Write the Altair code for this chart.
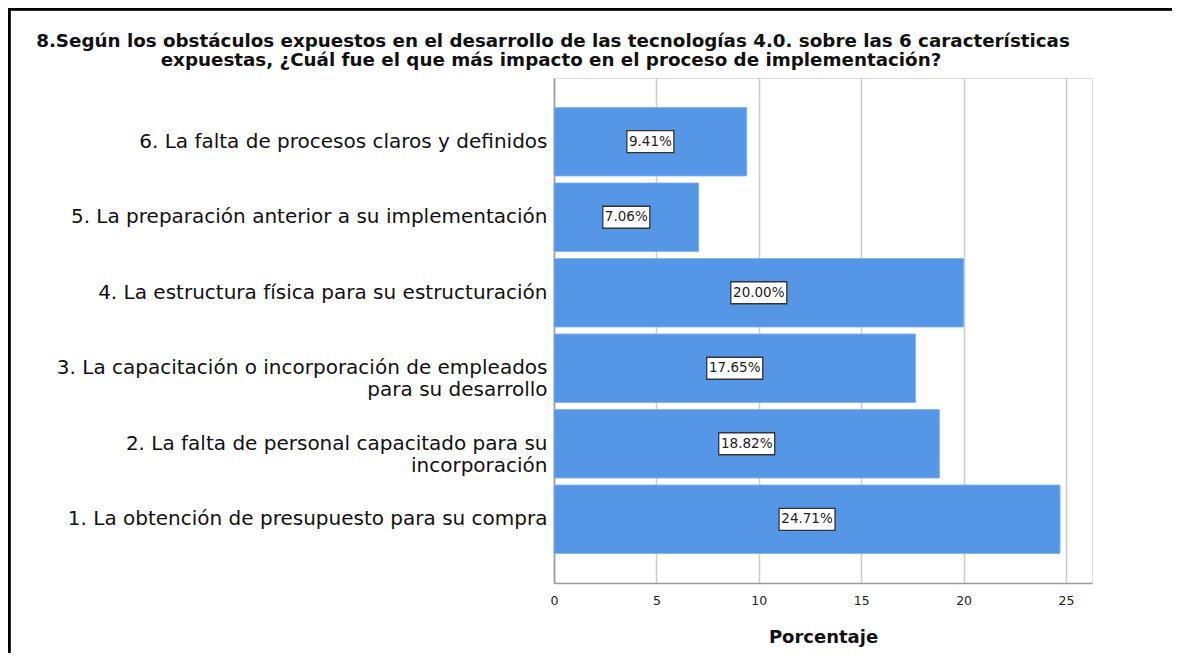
import altair as alt
import pandas as pd

categories = [
    "1. La obtención de presupuesto para su compra",
    "2. La falta de personal capacitado para su|incorporación",
    "3. La capacitación o incorporación de empleados|para su desarrollo",
    "4. La estructura física para su estructuración",
    "5. La preparación anterior a su implementación",
    "6. La falta de procesos claros y definidos",
]
values = [24.71, 18.82, 17.65, 20.00, 7.06, 9.41]
x_ticks = [0, 5, 10, 15, 20, 25]
title_lines = [
    "8.Según los obstáculos expuestos en el desarrollo de las tecnologías 4.0. sobre las 6 características",
    "expuestas, ¿Cuál fue el que más impacto en el proceso de implementación?",
]
order = list(reversed(categories))

df = pd.DataFrame({"cat": categories, "val": values})
FONT = "DejaVu Sans"
BLUE = "#5596E6"

y_enc = alt.Y(
    "cat:N",
    sort=order,
    title=None,
    scale=alt.Scale(paddingInner=0.0925, paddingOuter=0.39),
    axis=alt.Axis(
        labelExpr="split(datum.label, '|')",
        labelFont=FONT,
        labelFontSize=20,
        labelColor="#111111",
        labelLimit=0,
        labelPadding=7,
        labelLineHeight=22,
        ticks=False,
        domain=True,
        domainColor="#999999",
        domainWidth=1.5,
        grid=False,
    ),
)
x_scale = alt.Scale(domain=[0, 26.27], nice=False, zero=True)

bars = alt.Chart(df).mark_bar(color=BLUE, stroke="#7fb1ee", strokeWidth=0.8).encode(
    x=alt.X(
        "val:Q",
        scale=x_scale,
        title="Porcentaje",
        axis=alt.Axis(
            values=x_ticks,
            format="d",
            labelFont=FONT,
            labelFontSize=12.5,
            labelColor="#222222",
            labelPadding=11,
            labelFlush=False,
            ticks=False,
            domainColor="#999999",
            domainWidth=1.5,
            grid=True,
            gridColor="#cccccc",
            gridWidth=1.5,
            titleFont=FONT,
            titleFontSize=18,
            titleFontWeight="bold",
            titleColor="#111111",
            titlePadding=22,
        ),
    ),
    y=y_enc,
)

base_lab = alt.Chart(df).transform_calculate(
    mid="datum.val / 2",
    lab="format(datum.val, '.2f') + '%'",
    n="length(format(datum.val, '.2f') + '%')",
)

box5 = base_lab.transform_filter("datum.n <= 5").mark_rect(
    width=47, height=22, fill="white", stroke="#333333", strokeWidth=1.3
).encode(x=alt.X("mid:Q", scale=x_scale), y=alt.Y("cat:N", sort=order))
box6 = base_lab.transform_filter("datum.n > 5").mark_rect(
    width=56, height=22, fill="white", stroke="#333333", strokeWidth=1.3
).encode(x=alt.X("mid:Q", scale=x_scale), y=alt.Y("cat:N", sort=order))

texts = base_lab.mark_text(font=FONT, fontSize=13.5, color="#222222").encode(
    x=alt.X("mid:Q", scale=x_scale),
    y=alt.Y("cat:N", sort=order),
    text="lab:N",
)

tdf = pd.DataFrame({"line": title_lines, "k": [0, 1]})
title1 = alt.Chart(tdf).transform_filter("datum.k == 0").mark_text(
    font=FONT, fontSize=18.3, fontWeight="bold", color="#111111", align="center", baseline="alphabetic"
).encode(x=alt.value(-1), y=alt.value(-31), text="line:N")
title2 = alt.Chart(tdf).transform_filter("datum.k == 1").mark_text(
    font=FONT, fontSize=18.3, fontWeight="bold", color="#111111", align="center", baseline="alphabetic"
).encode(x=alt.value(-3), y=alt.value(-12), text="line:N")

frame_left = alt.Chart(df).mark_rule(color="black", strokeWidth=2.5).encode(
    x=alt.value(-545), y=alt.value(-69), y2=alt.value(620)
)
frame_top = alt.Chart(df).mark_rule(color="black", strokeWidth=2.5).encode(
    y=alt.value(-69), x=alt.value(-546), x2=alt.value(700)
)

chart = alt.layer(bars, box5, box6, texts, title1, title2, frame_left, frame_top).properties(
    width=538,
    height=505,
    autosize=alt.AutoSizeParams(type="none"),
    padding={"left": 546, "top": 70, "right": 80, "bottom": 70},
).configure_view(stroke=None).configure(background="white")

chart.save("out.html", embed_options={"renderer": "svg", "actions": False})
